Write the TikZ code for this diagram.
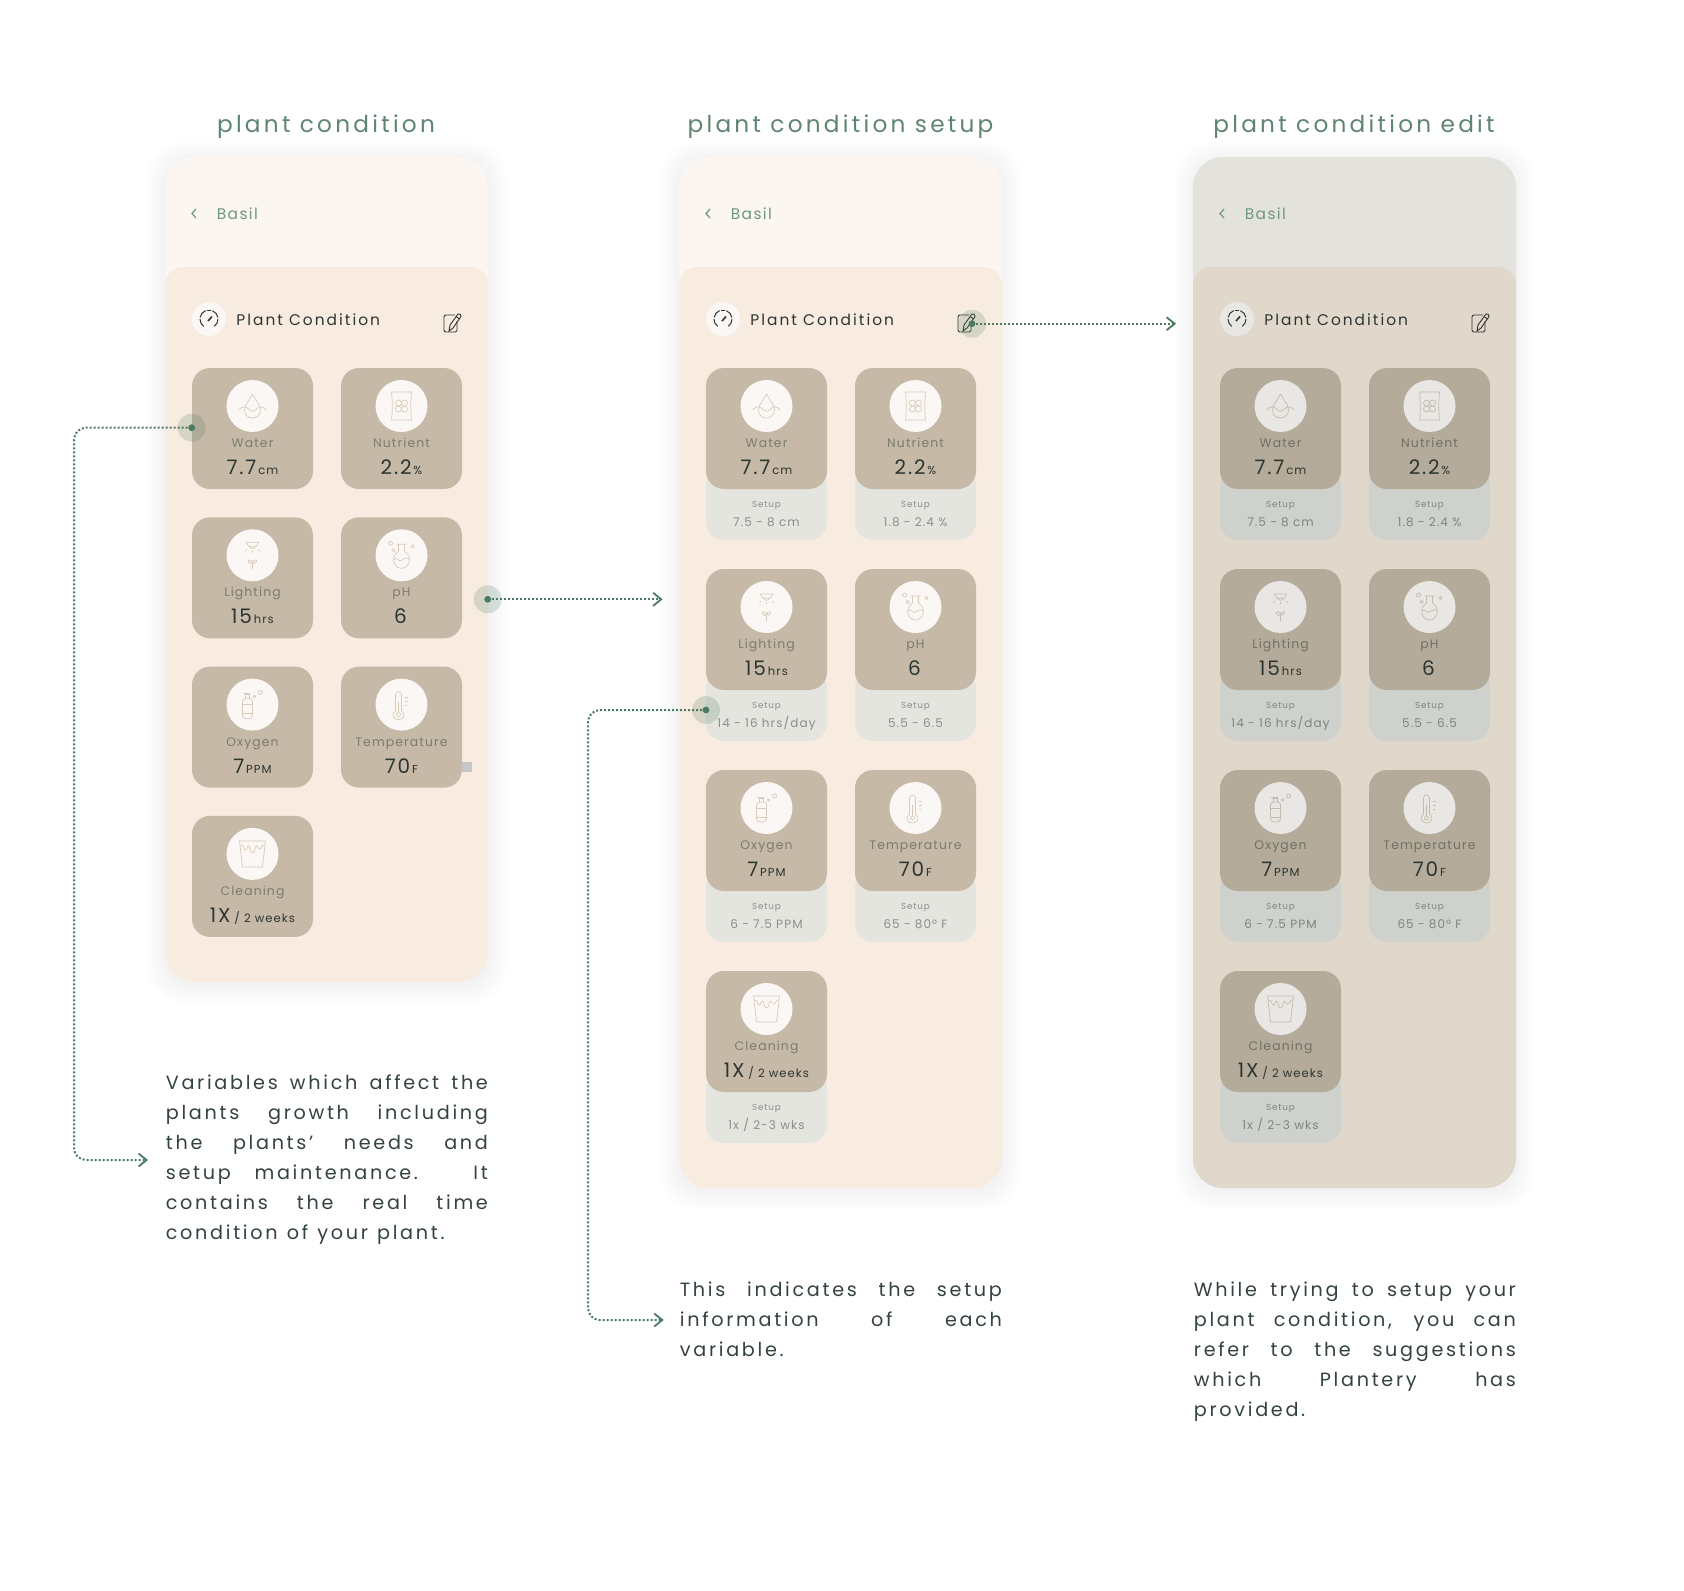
\documentclass[tikz,border=0pt]{standalone}
\usepackage{fontspec}
\setmainfont[LetterSpace=9]{Poppins}
\usetikzlibrary{arrows.meta, positioning, calc}

\definecolor{leaf}{HTML}{5F8570}
\definecolor{dotgreen}{HTML}{4C7A60}
\definecolor{bodyink}{HTML}{34433F}
\definecolor{greysquare}{HTML}{C4C6C8}

% icons, drawn round (0,0) in picture pixels
\newcommand{\iconwater}{
    \draw (0,-12) .. controls (-3,-6) and (-8,-1) .. (-8,4) .. controls (-8,9) and (-4,12) .. (0,12) .. controls (4,12) and (8,9) .. (8,4) .. controls (8,-1) and (3,-6) .. (0,-12);
    \draw (-14,4) .. controls (-10,0) and (-7,0) .. (-4,3) .. controls (-1,6) and (1,6) .. (4,3) .. controls (7,0) and (10,0) .. (14,4);
}
\newcommand{\iconnutrient}{
    \draw (-10,-14) -- (10,-14) .. controls (9,-5) and (9,5) .. (10,14) -- (-10,14) .. controls (-9,5) and (-9,-5) .. (-10,-14);
    \draw (-3,-3) circle[radius=3] (3,-3) circle[radius=3] (-3,3) circle[radius=3] (3,3) circle[radius=3];
}
\newcommand{\iconlight}{
    \draw (-6,-13) -- (6,-13) -- (4,-9) -- (-4,-9) -- cycle;
    \draw (-3,-9) .. controls (-2,-6) and (2,-6) .. (3,-9);
    \draw (-7,-4) -- (-6,-6) (0,-3) -- (0,-5) (7,-4) -- (6,-6);
    \draw (0,14) -- (0,7) .. controls (-1,4) and (-5,4) .. (-4,7) .. controls (-3,9) and (-1,9) .. (0,7) .. controls (1,4) and (5,4) .. (4,6) .. controls (3,8) and (1,9) .. (0,7);
}
\newcommand{\iconflask}{
    \draw (-5,-11) -- (5,-11) (-3,-11) -- (-3,-4) .. controls (-12,2) and (-7,13) .. (0,13) .. controls (7,13) and (12,2) .. (3,-4) -- (3,-11);
    \draw (-8,4) .. controls (-4,1) and (-3,7) .. (0,5) .. controls (3,3) and (5,2) .. (8,4);
    \draw (-11,-12) circle[radius=2] (-8,-5) circle[radius=1.7] (11,-9) circle[radius=1.7];
}
\newcommand{\iconbottle}{
    \draw (-10,-3) .. controls (-10,-5) and (-8,-6) .. (-7,-6) -- (-3,-6) .. controls (-1,-6) and (0,-5) .. (0,-3) -- (0,11) .. controls (0,13) and (-2,14) .. (-4,14) -- (-6,14) .. controls (-8,14) and (-10,13) .. (-10,11) -- cycle;
    \draw (-10,0) -- (0,0) (-10,9) -- (0,9);
    \draw (-7,-6) -- (-7,-10) -- (-3,-10) -- (-3,-6) (-10,-11) -- (-3,-11) (-5,-11) -- (-5,-10);
    \draw (2,-8) circle[radius=1.2] (8,-12) circle[radius=2];
}
\newcommand{\iconthermo}{
    \draw (-6,6) -- (-6,-10) .. controls (-6,-14) and (0,-14) .. (0,-10) -- (0,6) .. controls (4,9) and (3,15) .. (-3,15) .. controls (-9,15) and (-10,9) .. (-6,6);
    \draw (-3,10) circle[radius=2];
    \draw (-3,8) -- (-3,-3);
    \draw (3,-7) -- (6,-7) (3,-3) -- (6,-3) (3,1) -- (5,1);
}
\newcommand{\iconbucket}{
    \draw (-13,-13) -- (13,-13) (-13,-13) -- (-10,13) -- (10,13) -- (13,-13);
    \draw (-12,-9) .. controls (-8,-9) and (-9,-4) .. (-7,-4) .. controls (-5,-4) and (-6,-8) .. (-4,-8) .. controls (-2,-8) and (-3,-1) .. (0,-1) .. controls (3,-1) and (2,-8) .. (4,-8) .. controls (6,-8) and (5,-5) .. (7,-5) .. controls (9,-5) and (9,-9) .. (12,-9);
}
\newcommand{\icongauge}{
    \draw (-5.2,7.4) arc[start angle=125, end angle=180, radius=9];
    \draw (-8.9,-1.6) arc[start angle=190, end angle=248, radius=9];
    \draw (-2,-8.8) arc[start angle=257, end angle=283, radius=9];
    \draw (3.4,-8.3) arc[start angle=292, end angle=350, radius=9];
    \draw (9,0) arc[start angle=360, end angle=415, radius=9];
    \draw[line width=.8pt] (-1,2) -- (3,-2.5);
}
\newcommand{\iconedit}{
    \draw[rounded corners=1pt] (3,-8) -- (-8,-8) -- (-8,9) -- (1,9);
    \draw[rounded corners=.8pt] (1,9) -- (5,9) -- (5,-2);
    \draw (-3,8) -- (-2,2) -- (6,-9) .. controls (7,-10) and (10,-8) .. (9,-6.5) -- (1,5) -- cycle;
    \draw (4,-6.5) -- (7.5,-4);
}

% one card: name, x, y, icon, label, value, unit, setup range
\newif\ifsetupcards
\newcommand{\plantcard}[8]{
    \ifsetupcards
        \node[setupbox] (#1setup) at ({#2+60.5},{#3+136}) {};
    \fi
    \node[cardbox] (#1) at ({#2+60.5},{#3+60.5}) {};
    \node[iconcircle] (#1circle) at ({#2+60.5},{#3+38}) {};
    \begin{scope}[shift={({#2+60.5},{#3+38})}, iconline]
        #4
    \end{scope}
    \node[cardlabel] (#1label) at ({#2+60.5},{#3+79.5}) {#5};
    \node[cardvalue] (#1value) at ({#2+60.5},{#3+106.5}) {#6{\fontsize{5.8}{7}\selectfont\,#7}};
    \ifsetupcards
        \node[setuptitle] (#1title) at ({#2+60.5},{#3+139.5}) {Setup};
        \node[setuprange] (#1range) at ({#2+60.5},{#3+158}) {#8};
    \fi
}

% one whole screen: name, left edge, bottom edge, row pitch
\newcommand{\plantphone}[4]{
    \foreach \s in {18,15,12,9,6,3} {
        \fill[shadowlayer] ({#2-\s},{157-\s+3}) rectangle ({#2+323+\s},{#3+\s+3});
    }
    \fill[topfill, rounded corners=15pt] (#2,157) rectangle ({#2+323},#3);
    \fill[panelfill] (#2,300) [rounded corners=9pt] -- (#2,267) -- ({#2+323},267) -- ({#2+323},300) [rounded corners=15pt] -- ({#2+323},#3) -- (#2,#3) -- cycle;
    \draw[basilink, line width=.6pt] ({#2+31},209) -- ({#2+27},213.5) -- ({#2+31},218);
    \node[basiltext] (#1basil) at ({#2+51.5},219) {Basil};
    \node[iconcircle, minimum size=17pt] (#1gauge) at ({#2+44},319) {};
    \begin{scope}[shift={({#2+44},319)}, line width=.5pt, draw=headink]
        \icongauge
    \end{scope}
    \node[headtext] (#1head) at ({#2+71},325.7) {Plant Condition};
    \begin{scope}[shift={({#2+287},323)}, line width=.45pt, draw=headink]
        \iconedit
    \end{scope}
    \plantcard{#1water}{(#2+27)}{368}{\iconwater}{Water}{7.7}{cm}{7.5 - 8 cm}
    \plantcard{#1nutrient}{(#2+176)}{368}{\iconnutrient}{Nutrient}{2.2}{\%}{1.8 - 2.4 \%}
    \plantcard{#1light}{(#2+27)}{(368+#4)}{\iconlight}{Lighting}{15}{hrs}{14 - 16 hrs/day}
    \plantcard{#1ph}{(#2+176)}{(368+#4)}{\iconflask}{pH}{6}{}{5.5 - 6.5}
    \plantcard{#1oxygen}{(#2+27)}{(368+2*#4)}{\iconbottle}{Oxygen}{7}{PPM}{6 - 7.5 PPM}
    \plantcard{#1temp}{(#2+176)}{(368+2*#4)}{\iconthermo}{Temperature}{70}{F}{65 - 80\textdegree{} F}
    \plantcard{#1clean}{(#2+27)}{(368+3*#4)}{\iconbucket}{Cleaning}{1X}{\,/ 2 weeks}{1x / 2-3 wks}
}

\newcommand{\fitline}[1]{\makebox[161pt][s]{\spaceskip=4.6pt plus 1fil\relax #1}\\}
\newcommand{\lastline}[1]{\mbox{\spaceskip=4.6pt\relax #1}}

\begin{document}
\begin{tikzpicture}[x=.5pt, y=-.5pt,
        shadowlayer/.style={fill=black!60!leaf, fill opacity=.007, rounded corners=17pt},
        cardbox/.style={fill=cardfill, rectangle, rounded corners=9pt, minimum width=60.5pt, minimum height=60.5pt, inner sep=0},
        setupbox/.style={fill=setupfill, rectangle, rounded corners=9pt, minimum width=60.5pt, minimum height=36pt, inner sep=0},
        iconcircle/.style={fill=circlefill, circle, minimum size=26pt, inner sep=0},
        iconline/.style={draw=iconink, line width=.35pt},
        cardlabel/.style={anchor=base, inner sep=0, text=labelink, font=\fontsize{6.2}{8}\selectfont},
        cardvalue/.style={anchor=base, inner sep=0, text=valueink, font=\fontsize{10}{12}\selectfont},
        setuptitle/.style={anchor=base, inner sep=0, text=setupink, font=\fontsize{4.4}{6}\selectfont},
        setuprange/.style={anchor=base, inner sep=0, text=setupink, font=\fontsize{6}{8}\selectfont},
        basiltext/.style={anchor=base west, inner sep=0, text=basilink, font=\fontsize{7.7}{9}\selectfont},
        headtext/.style={anchor=base west, inner sep=0, text=headink, font=\fontsize{7.7}{9}\selectfont\addfontfeature{LetterSpace=13}},
        screentitle/.style={anchor=base, inner sep=0, text=leaf, font=\fontsize{11.6}{14}\selectfont\addfontfeature{LetterSpace=14}},
        notetext/.style={anchor=north west, inner sep=0, text width=161pt, align=flush left, text=bodyink, font=\fontsize{9.6}{15}\selectfont\addfontfeature{LetterSpace=14}},
        halo/.style={circle, fill=dotgreen, fill opacity=.2, minimum size=14pt, inner sep=0},
        dot/.style={circle, fill=dotgreen, minimum size=3.4pt, inner sep=0},
        callout/.style={draw=dotgreen, line width=1pt, dash pattern=on 1pt off 1pt, rounded corners=6pt, -{Straight Barb[length=4pt, width=6.5pt, line width=.9pt]}}
    ]
        \useasboundingbox (0,0) rectangle (1684,1590);
        \fill[white] (0,0) rectangle (1684,1590);

        % Plant condition
        \definecolor{topfill}{HTML}{FBF6F2}
        \definecolor{panelfill}{HTML}{F8ECE0}
        \definecolor{cardfill}{HTML}{C6B9A7}
        \definecolor{circlefill}{HTML}{FBF7F4}
        \definecolor{setupfill}{HTML}{E4E5DF}
        \definecolor{iconink}{HTML}{D8CBBA}
        \definecolor{labelink}{HTML}{7B7C70}
        \definecolor{valueink}{HTML}{2C3531}
        \definecolor{setupink}{HTML}{8A8F88}
        \definecolor{basilink}{HTML}{6F9680}
        \definecolor{headink}{HTML}{2C3531}

        \node[screentitle] (title1) at (326,132) {plant condition};
        \setupcardsfalse
        \plantphone{a}{165}{982}{149.3}
        \node[rectangle, fill=greysquare, minimum size=5pt, inner sep=0] (square) at (467,767) {};

        % Plant condition setup
        \node[screentitle] (title2) at (840.5,132) {plant condition setup};
        \setupcardstrue
        \plantphone{b}{679}{1188}{201}

        % Plant condition edit
        \definecolor{topfill}{HTML}{E3E2DD}
        \definecolor{panelfill}{HTML}{E1D8CC}
        \definecolor{cardfill}{HTML}{B5AB9A}
        \definecolor{circlefill}{HTML}{E8E7E3}
        \definecolor{setupfill}{HTML}{CFD1CC}
        \definecolor{iconink}{HTML}{C5BBAC}
        \definecolor{labelink}{HTML}{6F7166}
        \definecolor{setupink}{HTML}{80857F}
        \node[screentitle] (title3) at (1354,132) {plant condition edit};
        \plantphone{c}{1193}{1188}{201}

        % Notes
        \node[notetext] (note1) at (165.5,1074) {\fitline{Variables which affect the}\fitline{plants growth including}\fitline{the plants’ needs and}\fitline{setup maintenance. It}\fitline{contains the real time}\lastline{condition of your plant.}};
        \node[notetext] (note2) at (679.5,1281) {\fitline{This indicates the setup}\fitline{information of each}\lastline{variable.}};
        \node[notetext] (note3) at (1193.5,1281) {\fitline{While trying to setup your}\fitline{plant condition, you can}\fitline{refer to the suggestions}\fitline{which Plantery has}\lastline{provided.}};

        % Callouts
        \node[halo] (halowater) at (191.7,427.7) {};
        \node[halo] (halophone) at (487.7,599.3) {};
        \node[halo] (haloedit) at (972,323.7) {};
        \node[halo] (halosetup) at (706,710) {};
        \node[dot] (dotwater) at (191.7,427.7) {};
        \node[dot] (dotphone) at (487.7,599.3) {};
        \node[dot] (dotedit) at (972,323.7) {};
        \node[dot] (dotsetup) at (706,710) {};

        \coordinate (bendwater) at (74,1160);
        \coordinate (endwater) at (148,1160);
        \coordinate (endphone) at (662.6,599.3);
        \coordinate (endedit) at (1176,323.7);
        \coordinate (bendsetup) at (588,1320);
        \coordinate (endsetup) at (663.7,1320);

        \draw[callout] (dotwater.center) -- (bendwater |- dotwater.center) -- (bendwater) -- (endwater);
        \draw[callout] (dotphone.center) -- (endphone);
        \draw[callout] (dotedit.center) -- (endedit);
        \draw[callout] (dotsetup.center) -- (bendsetup |- dotsetup.center) -- (bendsetup) -- (endsetup);
    \end{tikzpicture}
\end{document}
